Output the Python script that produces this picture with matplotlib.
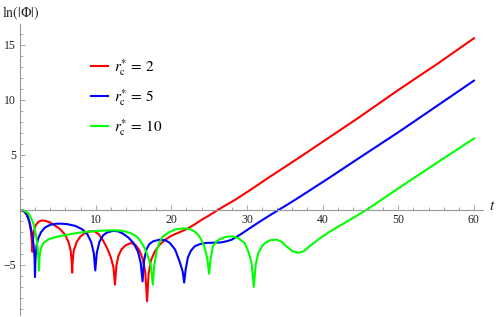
import matplotlib
matplotlib.use("Agg")
import matplotlib.pyplot as plt
from matplotlib.ticker import MultipleLocator

plt.rcParams['font.family'] = 'serif'
plt.rcParams['font.serif'] = ['Liberation Serif', 'DejaVu Serif']
plt.rcParams['mathtext.fontset'] = 'stix'

# r*_c = 2
t_red = [0, 0.5, 0.9, 1.2, 1.45, 1.58, 1.63, 1.7, 1.85, 2.1, 2.5, 2.9, 3.4, 4.0, 4.6,
         5.3, 5.9, 6.4, 6.7, 6.85, 6.9, 6.95, 7.1, 7.5, 8.0, 8.6, 9.3, 9.8, 10.4, 11.0,
         11.6, 12.0, 12.35, 12.55, 12.75, 13.0, 13.4, 14.0, 14.7, 15.3, 15.8, 16.2, 16.55,
         16.8, 17.0, 17.3, 17.8, 18.4, 19.2, 20.0, 21.0, 22.0, 23.0, 24.0, 25.0, 26.0,
         27.0, 28.4, 30.4, 33.0, 37.0, 41.0, 45.0, 50.0, 55.0, 60.0]
y_red = [0, -0.1, -0.45, -1.0, -2.0, -3.0, -3.8, -2.8, -1.9, -1.35, -1.05, -0.95, -1.0,
         -1.15, -1.4, -1.75, -2.2, -2.9, -3.7, -4.8, -5.7, -4.8, -3.7, -2.9, -2.4, -2.1,
         -1.95, -1.93, -2.2, -2.8, -3.6, -4.3, -5.2, -6.8, -5.0, -4.2, -3.6, -3.2, -3.0,
         -3.2, -3.7, -4.4, -5.6, -8.3, -5.8, -4.6, -3.8, -3.2, -2.7, -2.35, -2.05, -1.75,
         -1.35, -0.9, -0.5, -0.07, 0.35, 0.9, 1.8, 3.0, 4.8, 6.65, 8.5, 10.9, 13.2, 15.6]

# r*_c = 5
t_blue = [0, 0.5, 0.9, 1.3, 1.6, 1.8, 1.93, 1.98, 2.05, 2.2, 2.4, 2.8, 3.3, 4.0, 4.8,
          5.5, 6.3, 7.3, 8.2, 8.9, 9.4, 9.75, 9.95, 10.15, 10.5, 11.0, 11.5, 12.3, 13.0,
          13.6, 14.3, 15.0, 15.6, 15.95, 16.2, 16.4, 16.7, 17.1, 17.6, 18.5, 19.2, 19.8,
          20.5, 21.1, 21.5, 21.7, 21.9, 22.2, 22.6, 23.1, 23.8, 24.6, 25.6, 26.6, 27.3,
          28.0, 28.6, 29.1, 30.4, 31.7, 33.0, 34.3, 35.5, 37.0, 40.5, 45.0, 50.2, 55.0, 60.0]
y_blue = [0, -0.1, -0.4, -1.2, -2.2, -3.2, -4.4, -6.1, -4.4, -3.2, -2.6, -2.0, -1.6,
          -1.35, -1.25, -1.25, -1.3, -1.45, -1.75, -2.2, -2.9, -3.9, -5.5, -3.9, -2.9,
          -2.3, -2.05, -1.9, -1.95, -2.15, -2.5, -3.0, -3.8, -4.8, -6.5, -4.6, -3.6, -3.1,
          -2.85, -2.7, -2.75, -3.0, -3.6, -4.7, -5.6, -6.6, -5.4, -4.3, -3.7, -3.3, -3.1,
          -3.0, -2.98, -2.95, -2.85, -2.7, -2.45, -2.25, -1.65, -1.06, -0.5, 0.05, 0.55,
          1.2, 2.75, 4.8, 7.15, 9.4, 11.75]

# r*_c = 10
t_green = [0, 0.5, 1.1, 1.5, 1.76, 2.0, 2.2, 2.35, 2.45, 2.5, 2.58, 2.75, 3.1, 3.7, 4.5,
           5.9, 7.5, 9.0, 10.6, 12.3, 13.6, 14.6, 15.4, 16.0, 16.5, 16.9, 17.3, 17.55,
           17.75, 18.1, 18.5, 18.9, 19.8, 20.5, 21.6, 22.5, 23.1, 23.6, 24.0, 24.4, 24.75,
           25.0, 25.2, 25.5, 26.0, 26.4, 27.2, 28.0, 28.8, 29.7, 30.2, 30.6, 30.9, 31.15,
           31.5, 32.0, 32.4, 33.1, 33.9, 34.6, 35.2, 36.0, 36.8, 37.5, 38.3, 39.6, 41.0,
           43.6, 45.8, 50.2, 54.6, 60.0]
y_green = [0, -0.05, -0.3, -0.8, -1.2, -1.9, -2.7, -3.6, -4.5, -5.5, -4.3, -3.5, -3.0,
           -2.7, -2.5, -2.3, -2.1, -1.97, -1.9, -1.85, -1.9, -2.1, -2.4, -2.9, -3.5, -4.2,
           -5.1, -6.8, -5.0, -3.6, -2.85, -2.4, -2.0, -1.78, -1.67, -1.75, -1.97, -2.3,
           -2.75, -3.4, -4.4, -5.8, -4.4, -3.3, -2.85, -2.65, -2.45, -2.4, -2.55, -3.0,
           -3.8, -4.8, -7.0, -5.0, -3.9, -3.3, -3.0, -2.75, -2.7, -2.9, -3.3, -3.75, -3.9,
           -3.75, -3.3, -2.6, -1.95, -0.9, 0.0, 2.05, 4.05, 6.5]

fig = plt.figure(figsize=(4.98, 3.17), dpi=100)
ax = fig.add_axes([20/498, 2/317, 463/498, 291/317])

ax.plot(t_red, y_red, color=(1, 0, 0), lw=1.5, label=r'$r_{\mathrm{c}}^{*}\,=\,2$')
ax.plot(t_blue, y_blue, color=(0, 0, 1), lw=1.5, label=r'$r_{\mathrm{c}}^{*}\,=\,5$')
ax.plot(t_green, y_green, color=(0, 1, 0), lw=1.5, label=r'$r_{\mathrm{c}}^{*}\,=\,10$')

ax.set_xlim(0, 61.2)
ax.set_ylim(-9.55, 16.9)

for s in ['top', 'right']:
    ax.spines[s].set_visible(False)
for s in ['left', 'bottom']:
    ax.spines[s].set_position(('data', 0))
    ax.spines[s].set_color('#999999')
    ax.spines[s].set_linewidth(0.8)

ax.set_xticks([10, 20, 30, 40, 50, 60])
ax.set_yticks([-5, 5, 10, 15])
ax.xaxis.set_minor_locator(MultipleLocator(2))
ax.yaxis.set_minor_locator(MultipleLocator(1))
ax.tick_params(which='both', direction='in', color='#999999', width=0.6,
               labelsize=8.5, labelcolor='#222222')
ax.tick_params(which='major', length=3.5, pad=3)
ax.tick_params(which='minor', length=2)

ax.legend(loc='upper left', bbox_to_anchor=(91/498, 1 - 57/317),
          bbox_transform=fig.transFigure, frameon=False, fontsize=11,
          handlelength=1.1, handletextpad=0.4, labelspacing=0.6, borderaxespad=0,
          borderpad=0)

fig.text(2/498, 1 - 13/317, r'$\ln(|\Phi|)$', fontsize=10, va='center', ha='left',
         color='#222222')
fig.text(489/498, 1 - 206/317, r'$t$', fontsize=11, va='center', ha='left',
         color='#222222')

fig.savefig('out.png', dpi=100)
